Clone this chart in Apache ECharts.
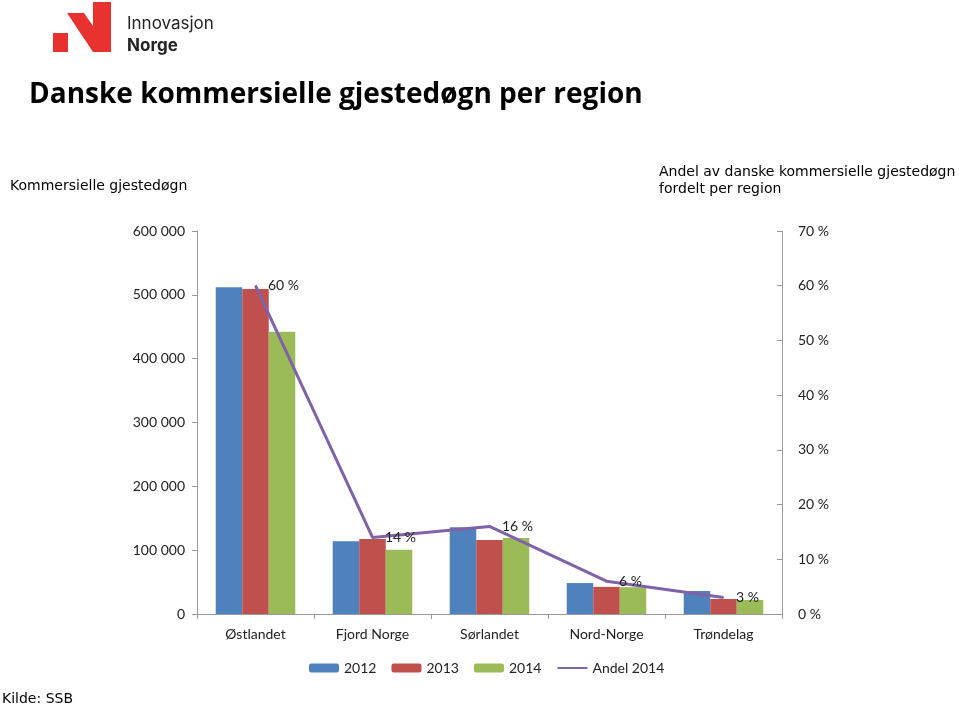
<!DOCTYPE html>
<html>
<head>
<meta charset="utf-8">
<script src="https://cdn.jsdelivr.net/npm/echarts@6/dist/echarts.min.js"></script>
<style>
html,body{margin:0;padding:0;background:#fff;}
#chart{width:959px;height:707px;}
</style>
</head>
<body>
<div id="chart"></div>
<script>
const categories = ['Østlandet', 'Fjord Norge', 'Sørlandet', 'Nord-Norge', 'Trøndelag'];
const values2012 = [512000, 114000, 136000, 48500, 36000];
const values2013 = [509000, 117500, 116000, 42500, 23500];
const values2014 = [442000, 100500, 119000, 42000, 22000];
const andel2014 = [60, 14, 16, 6, 3];
const leftTicks = [0, 600000, 100000];
const rightTicks = [0, 70, 10];

const chart = echarts.init(document.getElementById('chart'));
const fmtNum = v => String(v).replace(/\B(?=(\d{3})+(?!\d))/g, ' ');
const axisFont = {fontFamily: 'Lato', fontSize: 14, color: '#222'};

chart.setOption({
  animation: false,
  backgroundColor: '#fff',
  title: {
    text: 'Danske kommersielle gjestedøgn per region',
    left: 24, top: 76,
    textStyle: {fontFamily: 'Open Sans', fontWeight: 'bold', fontSize: 28, color: '#000'}
  },
  graphic: [
    {type: 'rect', shape: {x: 53, y: 33, width: 15, height: 19}, style: {fill: '#E8322F'}},
    {type: 'polygon', shape: {points: [[67, 13], [84, 13], [111, 52], [93, 52]]}, style: {fill: '#E8322F'}},
    {type: 'rect', shape: {x: 93, y: 2, width: 18, height: 50}, style: {fill: '#E8322F'}},
    {type: 'text', left: 127, top: 15, style: {text: 'Innovasjon', fontFamily: 'Inter', fontSize: 17, fill: '#222'}},
    {type: 'text', left: 127, top: 37, style: {text: 'Norge', fontFamily: 'Inter', fontWeight: 'bold', fontSize: 17, fill: '#222'}},
    {type: 'text', left: 10, top: 179, style: {text: 'Kommersielle gjestedøgn', fontFamily: 'DejaVu Sans', fontSize: 14, fill: '#000'}},
    {type: 'text', left: 659, top: 164, style: {text: 'Andel av danske kommersielle gjestedøgn\nfordelt per region', fontFamily: 'DejaVu Sans', fontSize: 14, lineHeight: 17, fill: '#000'}},
    {type: 'text', left: 2, top: 692, style: {text: 'Kilde: SSB', fontFamily: 'DejaVu Sans', fontSize: 14, fill: '#000'}}
  ],
  legend: {
    left: 304, top: 656,
    itemWidth: 30, itemHeight: 9, itemGap: 15,
    textStyle: {fontFamily: 'Lato', fontSize: 14, color: '#222'},
    data: ['2012', '2013', '2014', {name: 'Andel 2014', itemStyle: {color: 'rgba(0,0,0,0)', borderWidth: 0}}]
  },
  grid: {left: 197, right: 177, top: 231, bottom: 93},
  xAxis: {
    type: 'category', data: categories,
    axisLine: {lineStyle: {color: '#999'}},
    axisTick: {show: true, length: 5, lineStyle: {color: '#999'}},
    axisLabel: Object.assign({margin: 13}, axisFont)
  },
  yAxis: [
    {
      type: 'value', min: leftTicks[0], max: leftTicks[1], interval: leftTicks[2],
      axisLine: {show: true, lineStyle: {color: '#999'}},
      axisTick: {show: true, length: 5, lineStyle: {color: '#999'}},
      splitLine: {show: false},
      axisLabel: Object.assign({margin: 12, formatter: fmtNum}, axisFont)
    },
    {
      type: 'value', min: rightTicks[0], max: rightTicks[1], interval: rightTicks[2],
      position: 'right',
      axisLine: {show: true, lineStyle: {color: '#999'}},
      axisTick: {show: true, inside: true, length: 5, lineStyle: {color: '#999'}},
      splitLine: {show: false},
      axisLabel: Object.assign({margin: 16, formatter: v => v + ' %'}, axisFont)
    }
  ],
  series: [
    {name: '2012', type: 'bar', data: values2012, barGap: '0%', barCategoryGap: '32%', itemStyle: {color: '#4F81BD'}},
    {name: '2013', type: 'bar', data: values2013, itemStyle: {color: '#C0504D'}},
    {name: '2014', type: 'bar', data: values2014, itemStyle: {color: '#9BBB59'}},
    {
      name: 'Andel 2014', type: 'line', yAxisIndex: 1, data: andel2014,
      symbol: 'circle', symbolSize: 1, showSymbol: true, z: 5,
      lineStyle: {color: '#7F62A8', width: 3},
      itemStyle: {color: '#7F62A8'},
      label: {show: true, position: 'right', distance: 12, formatter: p => Math.round(p.value) + ' %',
        fontFamily: 'Lato', fontSize: 14, color: '#222'}
    }
  ]
});
</script>
</body>
</html>
